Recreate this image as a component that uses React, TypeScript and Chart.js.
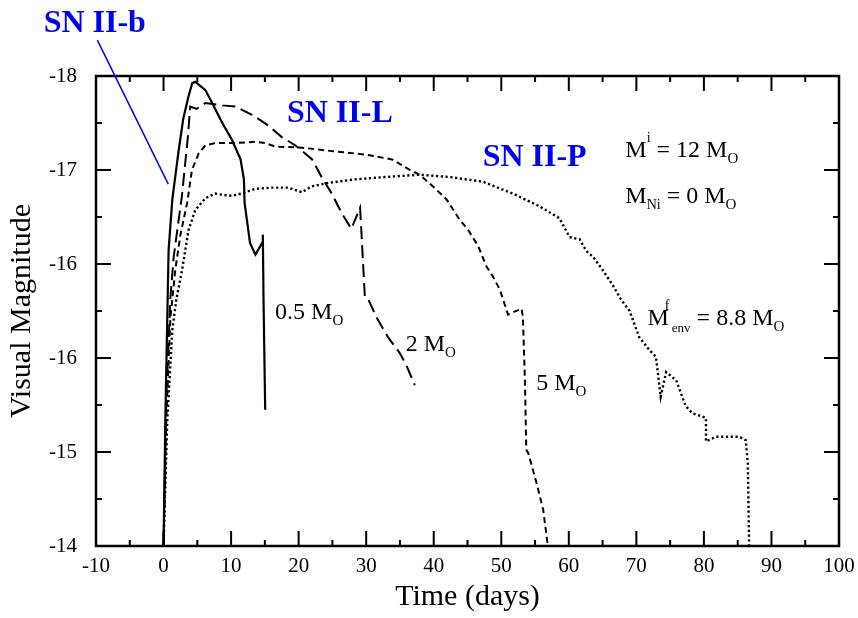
import { useEffect, useRef } from 'react';
import { Chart, registerables } from 'chart.js';

Chart.register(...registerables);

// ---- axis ticks ----
const xTickValues = [-10, 0, 10, 20, 30, 40, 50, 60, 70, 80, 90, 100];
const yTickValues = [-18, -17.2, -16.4, -15.6, -14.8, -14];
const yTickLabels = ['-18', '-17', '-16', '-16', '-15', '-14'];

// ---- 0.5 Mo envelope (solid) ----
const solidT = [0, 0.27, 0.75, 1.3, 2.2, 2.9, 3.66, 4.25, 4.7, 6.2, 7.2, 8.7, 10.1, 11.4, 11.9, 12.0, 12.4, 12.8, 13.6, 14.6, 14.7, 14.8, 15.05];
const solidMag = [-14.0, -15.1, -16.52, -16.95, -17.35, -17.63, -17.82, -17.94, -17.95, -17.88, -17.77, -17.6, -17.46, -17.29, -17.12, -16.92, -16.75, -16.58, -16.48, -16.58, -16.65, -16.1, -15.16];

// ---- 2 Mo envelope (long dash) ----
const longT = [0, 0.4, 1.0, 1.5, 2.7, 3.6, 3.95, 4.9, 6.2, 8.7, 10.6, 13.1, 15.5, 17.5, 19.5, 22.0, 23.4, 24.9, 26.4, 27.8, 29.1, 29.8, 30.3, 31.5, 33.2, 35.0, 36.0, 37.2];
const longMag = [-14.0, -15.24, -16.1, -16.46, -16.97, -17.48, -17.74, -17.72, -17.77, -17.75, -17.74, -17.67, -17.58, -17.48, -17.41, -17.29, -17.14, -17.0, -16.83, -16.7, -16.88, -16.12, -16.1, -15.95, -15.78, -15.64, -15.53, -15.37];

// ---- 5 Mo envelope (medium dash) ----
const medT = [0, 0.4, 1.0, 1.74, 2.5, 3.5, 4.2, 5.2, 6.2, 7.7, 10.6, 13.6, 15.0, 16.5, 20.5, 25.1, 30.1, 33.8, 36.5, 37.9, 39.9, 41.9, 43.8, 45.1, 46.6, 47.8, 48.8, 49.8, 51.0, 53.0, 53.2, 53.5, 53.7, 54.0, 55.2, 56.2, 56.9];
const medMag = [-14.0, -15.07, -15.93, -16.35, -16.65, -16.92, -17.2, -17.34, -17.41, -17.43, -17.43, -17.44, -17.43, -17.4, -17.39, -17.36, -17.33, -17.29, -17.2, -17.16, -17.06, -16.95, -16.78, -16.69, -16.55, -16.38, -16.29, -16.18, -15.97, -16.02, -15.95, -15.41, -14.82, -14.79, -14.54, -14.31, -14.0];

// ---- 8.8 Mo envelope (dotted) ----
const dotT = [0, 0.55, 1.3, 1.9, 2.75, 3.7, 4.7, 6.2, 7.65, 8.6, 10.1, 11.6, 13.6, 16.1, 18.5, 20.5, 21.9, 24.4, 28.3, 32.8, 37.9, 42.4, 47.3, 51.7, 55.7, 58.6, 60.1, 61.6, 62.6, 63.6, 65.0, 66.5, 67.7, 69.0, 70.4, 71.9, 72.9, 73.6, 74.4, 75.9, 77.3, 78.3, 80.3, 80.31, 81.8, 85.2, 86.2, 86.5, 86.7];
const dotMag = [-14.0, -15.07, -15.84, -16.1, -16.35, -16.69, -16.86, -16.96, -17.0, -16.99, -16.98, -17.0, -17.04, -17.05, -17.05, -17.01, -17.06, -17.09, -17.12, -17.14, -17.16, -17.14, -17.1, -17.0, -16.89, -16.79, -16.63, -16.61, -16.51, -16.46, -16.35, -16.22, -16.1, -16.0, -15.78, -15.67, -15.61, -15.27, -15.48, -15.41, -15.19, -15.13, -15.09, -14.89, -14.93, -14.93, -14.9, -14.7, -14.0];

// ---- text annotations (anchored in data coordinates) ----
const BLUE = '#0000f0';
const FONT = '"Liberation Serif", "Times New Roman", serif';

type Run = { s: string; size: number; dy?: number; dx?: number; adv?: boolean; bold?: boolean };
type Label = { t: number; m: number; color: string; runs: Run[] };

const labels: Label[] = [
  { t: -17.75, m: -18.374, color: BLUE, runs: [{ s: 'SN II-b', size: 32, bold: true }] },
  { t: 18.27, m: -17.61, color: BLUE, runs: [{ s: 'SN II-L', size: 32, bold: true }] },
  { t: 47.24, m: -17.23, color: BLUE, runs: [{ s: 'SN II-P', size: 32, bold: true }] },
  { t: 68.36, m: -17.314, color: '#000', runs: [{ s: 'M', size: 24 }, { s: 'i', size: 14, dy: -15 }, { s: ' = 12 M', size: 24 }, { s: 'O', size: 15, dy: 6 }] },
  { t: 68.36, m: -16.92, color: '#000', runs: [{ s: 'M', size: 24 }, { s: 'Ni', size: 14, dy: 6 }, { s: ' = 0 M', size: 24 }, { s: 'O', size: 15, dy: 6 }] },
  { t: 16.51, m: -15.93, color: '#000', runs: [{ s: '0.5 M', size: 24 }, { s: 'O', size: 15, dy: 6 }] },
  { t: 35.86, m: -15.66, color: '#000', runs: [{ s: '2 M', size: 24 }, { s: 'O', size: 15, dy: 6 }] },
  { t: 55.17, m: -15.33, color: '#000', runs: [{ s: '5 M', size: 24 }, { s: 'O', size: 15, dy: 6 }] },
  { t: 71.65, m: -15.88, color: '#000', runs: [{ s: 'M', size: 24 }, { s: 'f', size: 14, dy: -15, dx: -4, adv: false }, { s: 'env', size: 13, dy: 7, dx: 3 }, { s: ' = 8.8 M', size: 24 }, { s: 'O', size: 15, dy: 6 }] },
];

// pointer line from "SN II-b" label to the light curves
const pointerT = [-9.8, 0.7];
const pointerMag = [-18.306, -17.08];

const toPts = (ts: number[], ms: number[]) => ts.map((t, i) => ({ x: t, y: ms[i] }));

const decorPlugin = {
  id: 'decor',
  afterDraw(chart: any) {
    const { ctx, chartArea: a, scales } = chart;
    const xs = scales.x;
    const ys = scales.y;
    ctx.save();
    ctx.strokeStyle = '#000';
    // frame
    ctx.lineWidth = 2.5;
    ctx.strokeRect(a.left, a.top, a.right - a.left, a.bottom - a.top);
    // inward ticks
    ctx.lineWidth = 2;
    ctx.beginPath();
    for (let v = -10; v <= 100; v += 5) {
      const px = xs.getPixelForValue(v);
      const len = v % 10 === 0 ? 15 : 6;
      ctx.moveTo(px, a.bottom);
      ctx.lineTo(px, a.bottom - len);
      ctx.moveTo(px, a.top);
      ctx.lineTo(px, a.top + len);
    }
    for (let i = 0; i <= 10; i++) {
      const v = -18 + i * 0.4;
      const py = ys.getPixelForValue(v);
      const len = i % 2 === 0 ? 15 : 6;
      ctx.moveTo(a.left, py);
      ctx.lineTo(a.left + len, py);
      ctx.moveTo(a.right, py);
      ctx.lineTo(a.right - len, py);
    }
    ctx.stroke();
    // pointer line
    ctx.strokeStyle = BLUE;
    ctx.lineWidth = 1.5;
    ctx.beginPath();
    ctx.moveTo(xs.getPixelForValue(pointerT[0]), ys.getPixelForValue(pointerMag[0]));
    ctx.lineTo(xs.getPixelForValue(pointerT[1]), ys.getPixelForValue(pointerMag[1]));
    ctx.stroke();
    // labels
    ctx.textBaseline = 'alphabetic';
    ctx.textAlign = 'left';
    for (const lab of labels) {
      let cx = xs.getPixelForValue(lab.t);
      const by = ys.getPixelForValue(lab.m);
      ctx.fillStyle = lab.color;
      for (const r of lab.runs) {
        ctx.font = `${r.bold ? 'bold ' : ''}${r.size}px ${FONT}`;
        const x0 = cx + (r.dx || 0);
        ctx.fillText(r.s, x0, by + (r.dy || 0));
        if (r.adv !== false) cx = x0 + ctx.measureText(r.s).width;
      }
    }
    ctx.restore();
  },
};

export default function App() {
  const ref = useRef<HTMLCanvasElement | null>(null);
  useEffect(() => {
    if (!ref.current) return;
    const chart = new Chart(ref.current, {
      type: 'line',
      data: {
        datasets: [
          { data: toPts(solidT, solidMag), borderColor: '#000', borderWidth: 2.2, pointRadius: 0, tension: 0, fill: false },
          { data: toPts(longT, longMag), borderColor: '#000', borderWidth: 2, borderDash: [13, 6], pointRadius: 0, tension: 0, fill: false },
          { data: toPts(medT, medMag), borderColor: '#000', borderWidth: 2, borderDash: [6, 4], pointRadius: 0, tension: 0, fill: false },
          { data: toPts(dotT, dotMag), borderColor: '#000', borderWidth: 2.4, borderDash: [2.2, 2.6], pointRadius: 0, tension: 0, fill: false },
        ],
      },
      options: {
        animation: false,
        responsive: false,
        devicePixelRatio: 1,
        layout: { padding: { top: 76, right: 19, left: 0, bottom: 0 } },
        plugins: { legend: { display: false }, tooltip: { enabled: false } },
        scales: {
          x: {
            type: 'linear',
            min: -10,
            max: 100,
            afterFit: (s: any) => { s.height = 72; s.paddingLeft = 0; s.paddingRight = 0; },
            afterBuildTicks: (s: any) => { s.ticks = xTickValues.map((v) => ({ value: v })); },
            grid: { display: false, drawTicks: false },
            border: { display: false },
            ticks: { color: '#000', font: { family: FONT, size: 21 }, padding: 8, maxRotation: 0, autoSkip: false },
            title: { display: true, text: 'Time (days)', color: '#000', font: { family: FONT, size: 30 }, padding: { top: 0, bottom: 3 } },
          },
          y: {
            type: 'linear',
            min: -18,
            max: -14,
            reverse: true,
            afterFit: (s: any) => { s.width = 96; s.paddingTop = 0; s.paddingBottom = 0; },
            afterBuildTicks: (s: any) => { s.ticks = yTickValues.map((v) => ({ value: v })); },
            grid: { display: false, drawTicks: false },
            border: { display: false },
            ticks: {
              color: '#000',
              font: { family: FONT, size: 21 },
              padding: 19,
              autoSkip: false,
              callback: (_v: any, i: number) => yTickLabels[i],
            },
            title: { display: true, text: 'Visual Magnitude', color: '#000', font: { family: FONT, size: 30 }, padding: { top: 4, bottom: 0 } },
          },
        },
      },
      plugins: [decorPlugin],
    });
    return () => chart.destroy();
  }, []);
  return (
    <div style={{ position: 'absolute', left: 0, top: 0, width: 858, height: 618, background: '#fff' }}>
      <canvas ref={ref} width={858} height={618} />
    </div>
  );
}
